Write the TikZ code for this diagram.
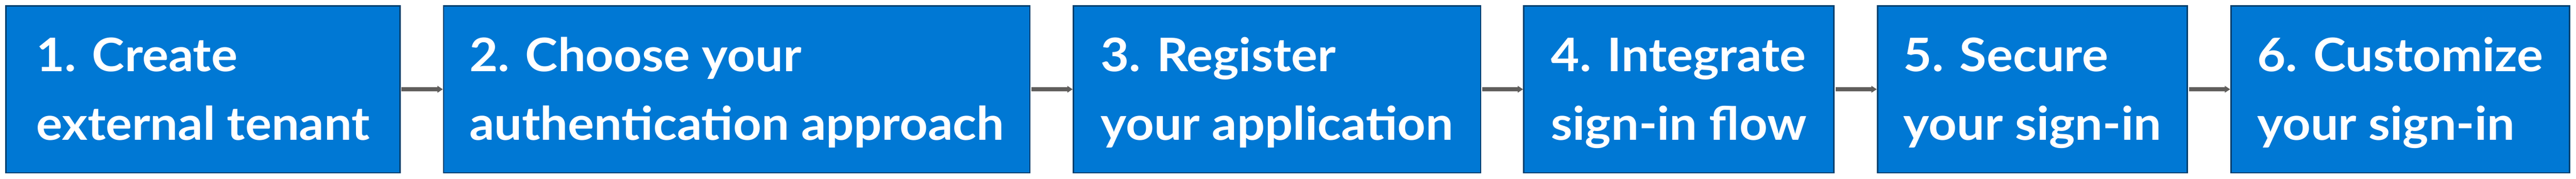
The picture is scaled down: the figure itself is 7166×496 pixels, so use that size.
\documentclass[tikz,border=0pt]{standalone}
\usepackage{fontspec}
\setmainfont{Lato}[FakeStretch=1.065]
\usetikzlibrary{arrows.meta}
\definecolor{boxfill}{HTML}{0078D4}
\definecolor{boxline}{HTML}{00406E}
\definecolor{arrowgray}{HTML}{605E5C}
\begin{document}
\begin{tikzpicture}[x=0.1pt,y=-0.1pt,
  stepbox/.style={draw=boxline, fill=boxfill, line width=0.4pt, inner sep=0pt, minimum height=46.4pt},
  steptext/.style={text=white, inner sep=0pt, anchor=base, font=\fontsize{12.84pt}{19.1pt}\selectfont\bfseries},
  flow/.style={draw=arrowgray, line width=1.2pt, -{Triangle[length=1.5pt,width=1.8pt]}, shorten <=0.2pt}]
\useasboundingbox (0,0) rectangle (7166,496);
\node[stepbox, minimum width=109.7pt] (b1) at (564.5,248) {};
\node[stepbox, minimum width=163.1pt] (b2) at (2049.5,248) {};
\node[stepbox, minimum width=113.3pt] (b3) at (3552.5,248) {};
\node[stepbox, minimum width=86.3pt] (b4) at (4670.5,248) {};
\node[stepbox, minimum width=86.2pt] (b5) at (5654,248) {};
\node[stepbox, minimum width=94.2pt] (b6) at (6677,248) {};
\node[steptext] (t1) at ([yshift=5pt]b1.center) {\begin{tabular}[t]{@{}l@{}}1. Create\\external tenant\end{tabular}};
\node[steptext] (t2) at ([yshift=5pt]b2.center) {\begin{tabular}[t]{@{}l@{}}2. Choose your\\authentication approach\end{tabular}};
\node[steptext] (t3) at ([yshift=5pt]b3.center) {\begin{tabular}[t]{@{}l@{}}3. Register\\your application\end{tabular}};
\node[steptext] (t4) at ([yshift=5pt]b4.center) {\begin{tabular}[t]{@{}l@{}}4. Integrate\\sign-in flow\end{tabular}};
\node[steptext] (t5) at ([yshift=5pt]b5.center) {\begin{tabular}[t]{@{}l@{}}5. Secure\\your sign-in\end{tabular}};
\node[steptext] (t6) at ([yshift=5pt]b6.center) {\begin{tabular}[t]{@{}l@{}}6. Customize\\your sign-in\end{tabular}};
\draw[flow] (b1.east) -- (b2.west);
\draw[flow] (b2.east) -- (b3.west);
\draw[flow] (b3.east) -- (b4.west);
\draw[flow] (b4.east) -- (b5.west);
\draw[flow] (b5.east) -- (b6.west);
\end{tikzpicture}
\end{document}
